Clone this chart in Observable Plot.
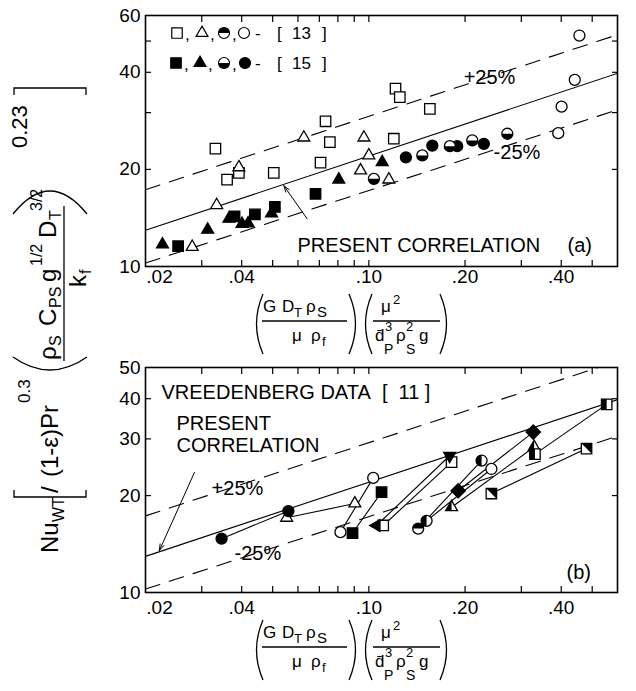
<!DOCTYPE html>
<html><head><meta charset="utf-8">
<script src="https://cdn.jsdelivr.net/npm/d3@7"></script>
<script src="https://cdn.jsdelivr.net/npm/@observablehq/plot@0.6"></script>
<style>
body{margin:0;background:#fff;}
#wrap{position:relative;width:636px;height:691px;font-family:"Liberation Sans",Arial,Helvetica,sans-serif;}
#wrap > svg{display:block}
#overlay{position:absolute;left:0;top:0;pointer-events:none;overflow:visible}
</style></head><body><div id="wrap"></div>
<script>
// ---------- Panel (a) data: ref [13] open symbols, ref [15] filled symbols
const a13SquareX = [0.0331,0.036,0.0504,0.0706,0.0732,0.0755,0.1197,0.1212,0.125,0.1552,0.0392];
const a13SquareY = [23.2,18.6,19.5,21.0,28.2,24.3,24.9,35.6,33.5,30.8,19.5];
const a13TriangleX = [0.028,0.0334,0.0392,0.0626,0.0942,0.0965,0.1,0.1155];
const a13TriangleY = [11.5,15.5,20.3,25.1,19.85,25.1,22.1,18.6];
const a13CircleX = [0.3915,0.401,0.441,0.456];
const a13CircleY = [25.9,31.3,37.9,52.0];
const a15SquareX = [0.0253,0.038,0.044,0.0508,0.0681];
const a15SquareY = [11.56,14.3,14.5,15.3,16.8];
const a15TriangleX = [0.0226,0.0313,0.0365,0.0401,0.0419,0.0496,0.0805,0.1101];
const a15TriangleY = [11.7,13.0,14.06,13.56,13.6,14.6,18.6,21.05];
const a15HalfCircleX = [0.1037,0.147,0.1793,0.2107,0.2712];
const a15HalfCircleY = [18.7,22.1,23.6,24.6,25.8];
const a15CircleX = [0.1306,0.158,0.189,0.229];
const a15CircleY = [21.8,23.7,23.6,24.0];

// ---------- Panel (b) Vreedenberg data: connected pairs
const bSym1 = ["circFilled","triOpen","circOpen","sqFilled","triLeftFilled","sqOpen","circHalfTop","circHalfLeft","diamondFilled","triHalf","sqHalfDiag","sqHalfLeft"];
const bX1 = [0.0346,0.0553,0.0815,0.0889,0.1057,0.1109,0.1427,0.1516,0.1904,0.1815,0.2418,0.331];
const bY1 = [14.7,17.06,15.4,15.3,16.15,16.15,15.8,16.7,20.7,18.4,20.3,26.9];
const bSym2 = ["circFilled","triOpen","circOpen","sqFilled","triDownFilled","sqOpen","circHalfLeft","circOpen","diamondFilled","triHalf","sqHalfDiag","sqHalfLeft"];
const bX2 = [0.056,0.0904,0.1032,0.1096,0.179,0.1815,0.2253,0.2418,0.327,0.329,0.48,0.555];
const bY2 = [17.9,18.9,22.7,20.5,26.6,25.4,25.7,24.2,31.5,28.3,28.0,38.4];

// ---------- correlation and +/-25% lines
const lineX = [0.02, 0.6];
const corrY = [12.95, 39.7];
const plus25Y = [17.3, 52.3];
const minus25Y = [10.25, 30.6];

// ---------- ticks
const xFirstLabel = [0.02];
const xLabelTicks = [0.04,0.06,0.1,0.2,0.4,0.6];
const xMinorTicks = [0.03,0.04,0.05,0.06,0.07,0.08,0.09,0.1,0.2,0.3,0.4,0.5];
const aYLabelTicks = [10,20,40,60];
const aYMinorTicks = [20,30,40,50];
const bYLabelTicks = [10,20,30,40,50];
const bYMinorTicks = [20,30,40];

// ---------- symbols
const shape = fn => ({draw(c, size){ fn(c, Math.sqrt(size/Math.PI)); }});
const SY = {
  square: shape((c,r)=>{const h=r*0.95;c.moveTo(-h,-h);c.lineTo(h,-h);c.lineTo(h,h);c.lineTo(-h,h);c.closePath();}),
  triangle: shape((c,r)=>{const R=r*1.25;c.moveTo(0,-R);c.lineTo(R*0.866,R*0.5);c.lineTo(-R*0.866,R*0.5);c.closePath();}),
  triDown: shape((c,r)=>{const R=r*1.25;c.moveTo(0,R);c.lineTo(R*0.866,-R*0.5);c.lineTo(-R*0.866,-R*0.5);c.closePath();}),
  triLeft: shape((c,r)=>{const R=r*1.25;c.moveTo(-R,0);c.lineTo(R*0.5,-R*0.866);c.lineTo(R*0.5,R*0.866);c.closePath();}),
  circle: shape((c,r)=>{c.moveTo(r,0);c.arc(0,0,r,0,2*Math.PI);}),
  diamond: shape((c,r)=>{const R=r*1.3;c.moveTo(0,-R);c.lineTo(R,0);c.lineTo(0,R);c.lineTo(-R,0);c.closePath();}),
  halfCircBottom: shape((c,r)=>{c.moveTo(r,0);c.arc(0,0,r,0,Math.PI);c.closePath();}),
  halfCircTop: shape((c,r)=>{c.moveTo(-r,0);c.arc(0,0,r,Math.PI,2*Math.PI);c.closePath();}),
  halfCircLeft: shape((c,r)=>{c.moveTo(0,r);c.arc(0,0,r,Math.PI/2,3*Math.PI/2);c.closePath();}),
  halfSqLeft: shape((c,r)=>{const h=r*0.95;c.moveTo(-h,-h);c.lineTo(0,-h);c.lineTo(0,h);c.lineTo(-h,h);c.closePath();}),
  halfSqDiag: shape((c,r)=>{const h=r*0.95;c.moveTo(-h,-h);c.lineTo(h,-h);c.lineTo(h,h);c.closePath();}),
  halfTriLeft: shape((c,r)=>{const R=r*1.25;c.moveTo(0,-R);c.lineTo(0,R*0.5);c.lineTo(-R*0.866,R*0.5);c.closePath();})
};
const KIND = {
  sqOpen:{shape:"square",fill:"white"}, sqFilled:{shape:"square",fill:"black"},
  triOpen:{shape:"triangle",fill:"white"}, triFilled:{shape:"triangle",fill:"black"},
  circOpen:{shape:"circle",fill:"white"}, circFilled:{shape:"circle",fill:"black"},
  circHalfBottom:{shape:"circle",fill:"white",half:"halfCircBottom"},
  circHalfTop:{shape:"circle",fill:"white",half:"halfCircTop"},
  circHalfLeft:{shape:"circle",fill:"white",half:"halfCircLeft"},
  triLeftFilled:{shape:"triLeft",fill:"black"}, triDownFilled:{shape:"triDown",fill:"black"},
  diamondFilled:{shape:"diamond",fill:"black"},
  triHalf:{shape:"triangle",fill:"white",half:"halfTriLeft"},
  sqHalfDiag:{shape:"square",fill:"white",half:"halfSqDiag"},
  sqHalfLeft:{shape:"square",fill:"white",half:"halfSqLeft"}
};
const R = 5.5;
function pointMarks(pts){
  const out = [];
  for (const k of Object.keys(KIND)) {
    const sub = pts.filter(d => d.kind === k);
    if (!sub.length) continue;
    const K = KIND[k];
    out.push(Plot.dot(sub, {x:"x", y:"y", r:R, symbol:SY[K.shape], fill:K.fill, stroke:"black", strokeWidth:1.3}));
    if (K.half) out.push(Plot.dot(sub, {x:"x", y:"y", r:R, symbol:SY[K.half], fill:"black", stroke:"none"}));
  }
  return out;
}
const zip = (X, Y, kind) => X.map((x,i) => ({x, y:Y[i], kind}));

const aPoints = [
  ...zip(a13SquareX,a13SquareY,"sqOpen"), ...zip(a13TriangleX,a13TriangleY,"triOpen"),
  ...zip(a13CircleX,a13CircleY,"circOpen"), ...zip(a15SquareX,a15SquareY,"sqFilled"),
  ...zip(a15TriangleX,a15TriangleY,"triFilled"), ...zip(a15HalfCircleX,a15HalfCircleY,"circHalfBottom"),
  ...zip(a15CircleX,a15CircleY,"circFilled")
];
const bPairs = bX1.map((x,i)=>({x1:x,y1:bY1[i],x2:bX2[i],y2:bY2[i]}));
const bPoints = [...bX1.map((x,i)=>({x,y:bY1[i],kind:bSym1[i]})), ...bX2.map((x,i)=>({x,y:bY2[i],kind:bSym2[i]}))];

const lines = lineX.map((x,i)=>({x, c:corrY[i], p:plus25Y[i], m:minus25Y[i]}));
const fmtX = d => d.toFixed(2).replace(/^0/, "");
const FONT = '"Liberation Sans", Arial, Helvetica, sans-serif';

function panel({height, marginTop, marginBottom, yDomain, yLabels, yMinor, xPad, marks}) {
  return Plot.plot({
    width: 636, height, marginLeft: 145, marginRight: 19, marginTop, marginBottom,
    x: {type:"log", domain:[0.02,0.6], label:null},
    y: {type:"log", domain:yDomain, label:null},
    style: {fontFamily: FONT, fontSize: "19px", color: "black", background: "white", overflow: "visible"},
    marks: [
      Plot.line(lines, {x:"x", y:"c", stroke:"black", strokeWidth:1.1, clip:true}),
      Plot.line(lines, {x:"x", y:"p", stroke:"black", strokeWidth:1.1, strokeDasharray:"15,10", clip:true}),
      Plot.line(lines, {x:"x", y:"m", stroke:"black", strokeWidth:1.1, strokeDasharray:"15,10", clip:true}),
      ...marks,
      Plot.frame({stroke:"black", strokeWidth:1.6}),
      Plot.axisX(xMinorTicks, {anchor:"bottom", tickSize:-6, tickFormat:()=>"", label:null, strokeWidth:1.2}),
      Plot.axisX(xMinorTicks, {anchor:"top", tickSize:-6, tickFormat:()=>"", label:null, strokeWidth:1.2}),
      Plot.axisX(xFirstLabel, {anchor:"bottom", tickSize:0, tickPadding:xPad, tickFormat:fmtX, label:null, dx:14}),
      Plot.axisX(xLabelTicks, {anchor:"bottom", tickSize:0, tickPadding:xPad, tickFormat:fmtX, label:null}),
      Plot.axisY(yMinor, {anchor:"left", tickSize:-6, tickFormat:()=>"", label:null, strokeWidth:1.2}),
      Plot.axisY(yMinor, {anchor:"right", tickSize:-6, tickFormat:()=>"", label:null, strokeWidth:1.2}),
      Plot.axisY(yLabels, {anchor:"left", tickSize:0, tickPadding:5, tickFormat:d=>String(d), label:null})
    ]
  });
}

// annotations
const aNotes = [
  {x:0.198, y:38.5, t:"+25%"}, {x:0.2457, y:22.6, t:"-25%"},
  {x:0.0598, y:11.6, t:"PRESENT CORRELATION"}, {x:0.4187, y:11.6, t:"(a)"}
];
const aArrow = [{x1:0.0641, y1:14.06, x2:0.0542, y2:17.8}];
const bNotes = [
  {x:0.02244, y:41.8, t:"VREEDENBERG DATA\u00a0\u00a0[\u00a0\u00a011\u00a0]"},
  {x:0.025, y:33.5, t:"PRESENT"}, {x:0.025, y:28.6, t:"CORRELATION"},
  {x:0.0322, y:21.0, t:"+25%"}, {x:0.038, y:13.2, t:"-25%"}, {x:0.4157, y:11.5, t:"(b)"}
];
const bArrow = [{x1:0.02846, y1:23.6, x2:0.0221, y2:13.5}];

const topPlot = panel({height:345, marginTop:15, marginBottom:79, yDomain:[10,60], yLabels:aYLabelTicks, yMinor:aYMinorTicks, xPad:3,
  marks:[
    ...pointMarks(aPoints),
    Plot.arrow(aArrow, {x1:"x1",y1:"y1",x2:"x2",y2:"y2", stroke:"black", strokeWidth:1, headLength:10, headAngle:35}),
    Plot.text(aNotes, {x:"x", y:"y", text:"t", textAnchor:"start", fontSize:20, fill:"black"})
  ]});
const bottomPlot = panel({height:346, marginTop:22, marginBottom:99, yDomain:[10,50], yLabels:bYLabelTicks, yMinor:bYMinorTicks, xPad:8,
  marks:[
    Plot.link(bPairs, {x1:"x1",y1:"y1",x2:"x2",y2:"y2", stroke:"black", strokeWidth:1.1}),
    ...pointMarks(bPoints),
    Plot.arrow(bArrow, {x1:"x1",y1:"y1",x2:"x2",y2:"y2", stroke:"black", strokeWidth:1, headLength:10, headAngle:35}),
    Plot.text(bNotes, {x:"x", y:"y", text:"t", textAnchor:"start", fontSize:20, fill:"black"})
  ]});

const wrap = document.getElementById("wrap");
wrap.appendChild(topPlot);
wrap.appendChild(bottomPlot);

// ---------- overlay: axis titles and legend
const ns = "http://www.w3.org/2000/svg";
const ov = document.createElementNS(ns, "svg");
ov.setAttribute("id","overlay"); ov.setAttribute("width",636); ov.setAttribute("height",691);
let s = `<g font-family='${FONT}' fill='black'>`;
const rt = (t, sy, sx, fs) => `<text x="${-sy}" y="${sx}" font-size="${fs}">${t}</text>`;
s += `<g transform="rotate(-90)">`;
s += rt("Nu",553,58,24) + rt("WT",522,64,16) + rt("/",493,58,24);
s += rt("(1-ε)Pr",477,58,24) + rt("0.3",403,30,17);
s += rt("ρ",360,56,24) + rt("S",346,61,16) + rt("C",326,56,24) + rt("PS",308,61,16);
s += rt("g",282,56,24) + rt("1/2",266,42,16) + rt("D",238,56,24) + rt("T",220,61,16) + rt("3/2",211,42,16);
s += rt("k",287,86,24) + rt("f",274,91,16);
s += rt("0.23",148,27,22);
s += `</g>`;
s += `<g fill="none" stroke="black" stroke-width="1.3">`;
s += `<path d="M14,490 L14,497 L86,497 L86,490"/>`;
s += `<path d="M14,95 L14,88 L86,88 L86,95"/>`;
s += `<path d="M13,357 Q50,383 87,357"/>`;
s += `<path d="M13,214 Q50,168 87,214"/>`;
s += `<path d="M64,361 L64,206"/>`;
s += `</g>`;
function xTitle(B){
  let t = "";
  const tx = (str, x, y, fs) => `<text x="${x}" y="${y}" font-size="${fs}">${str}</text>`;
  t += tx("G",263,B+46,17) + tx("D",282,B+46,17) + tx("T",294,B+51,13) + tx("ρ",306,B+46,17) + tx("S",317,B+51,15);
  t += tx("μ",292,B+75,17) + tx("ρ",311,B+75,17) + tx("f",322,B+80,13);
  t += tx("μ",381,B+46,17) + tx("2",393,B+38,13);
  t += tx("d\u0304",375,B+75,17) + tx("3",385,B+65,13) + tx("P",384,B+88,14);
  t += tx("ρ",396,B+75,17) + tx("2",406,B+65,13) + tx("S",406,B+88,14) + tx("g",419,B+75,17);
  t += `<g fill="none" stroke="black" stroke-width="1.3">`;
  t += `<path d="M263,${B+28} Q250,${B+58} 263,${B+88}"/>`;
  t += `<path d="M349,${B+28} Q362,${B+58} 349,${B+88}"/>`;
  t += `<path d="M372,${B+28} Q359,${B+58} 372,${B+88}"/>`;
  t += `<path d="M440,${B+28} Q453,${B+58} 440,${B+88}"/>`;
  t += `<path d="M262,${B+55} L347,${B+55}"/><path d="M373,${B+55} L440,${B+55}"/>`;
  t += `</g>`;
  return t;
}
s += xTitle(266) + xTitle(592);
const legendRows = [
  {y:33, kinds:["sqOpen","triOpen","circHalfTop","circOpen"], xs:[177,202,224,244], ref:"13"},
  {y:63, kinds:["sqFilled","triFilled","circHalfBottom","circFilled"], xs:[176,200,224,245], ref:"15"}
];
for (const row of legendRows) {
  row.kinds.forEach((k,i) => {
    const K = KIND[k], x = row.xs[i];
    const p = d3.symbol(SY[K.shape], Math.PI*R*R)();
    s += `<path transform="translate(${x},${row.y})" d="${p}" fill="${K.fill}" stroke="black" stroke-width="1.2"/>`;
    if (K.half) s += `<path transform="translate(${x},${row.y})" d="${d3.symbol(SY[K.half], Math.PI*R*R)()}" fill="black"/>`;
    if (i < 3) s += `<text x="${x+8}" y="${row.y+7}" font-size="17">,</text>`;
  });
  s += `<text y="${row.y+6}" font-size="17"><tspan x="255">-</tspan><tspan x="277">[</tspan><tspan x="292">${row.ref}</tspan><tspan x="322">]</tspan></text>`;
}
s += `</g>`;
ov.innerHTML = s;
wrap.appendChild(ov);
</script></body></html>
